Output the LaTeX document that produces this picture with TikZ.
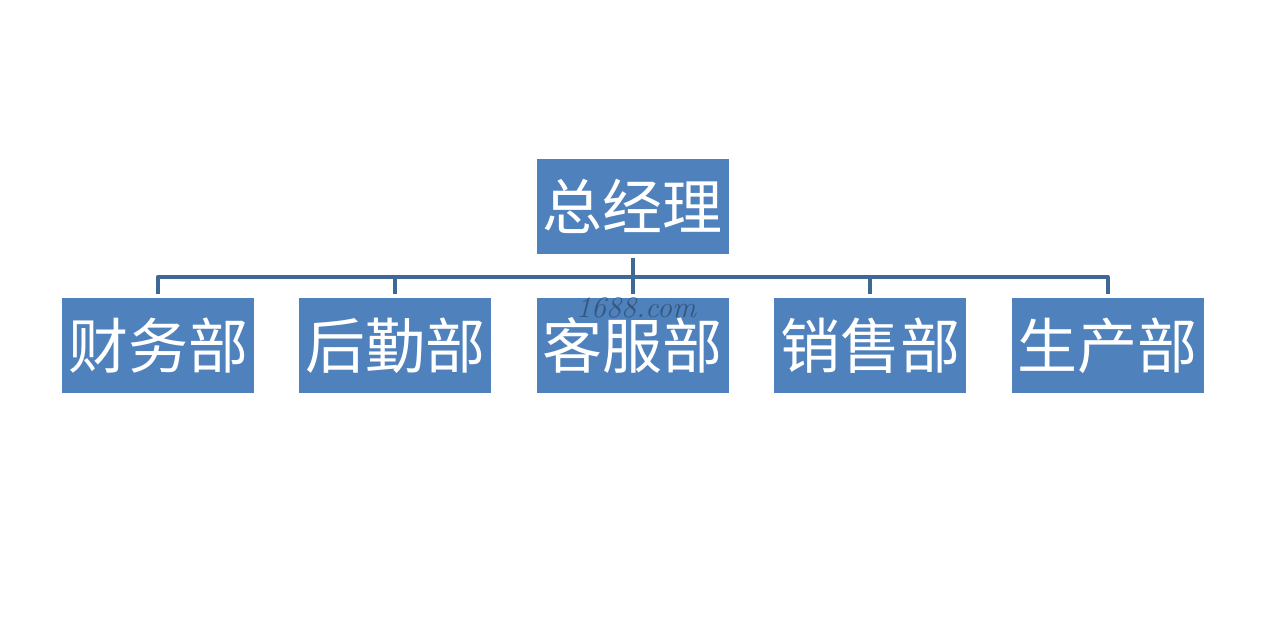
\documentclass[tikz,border=0pt]{standalone}
\usepackage{fontspec}
\newfontfamily\cjk{Noto Sans CJK SC}
\usepackage{tikz}
\usetikzlibrary{positioning}
\definecolor{deptblue}{HTML}{4F81BD}
\definecolor{linkblue}{HTML}{3F6896}

\begin{document}
\begin{tikzpicture}[
    x=1pt, y=-1pt,
    node distance=44pt and 45pt,
    dept/.style={fill=deptblue, text=white, minimum width=192pt, minimum height=95pt,
      inner sep=0pt, font=\cjk\fontsize{60}{60}\selectfont},
    link/.style={draw=linkblue, line width=4pt, line join=round}]
  \useasboundingbox[fill=white] (0,0) rectangle (1269,618);
  \node[dept] (fin) at (158,345.5) {财务部};
  \node[dept, right=of fin] (logi) {后勤部};
  \node[dept, right=of logi] (serv) {客服部};
  \node[dept, right=of serv] (sale) {销售部};
  \node[dept, right=of sale] (prod) {生产部};
  \node[dept, above=of serv] (boss) {总经理};
  % bus between manager and departments
  \coordinate (busL) at ([yshift=21pt]fin.north);
  \coordinate (busR) at ([yshift=21pt]prod.north);
  \draw[link] ([yshift=4pt]fin.north) -- (busL) -- (busR) -- ([yshift=4pt]prod.north);
  \draw[link] ([yshift=-4pt]boss.south) -- ([yshift=4pt]serv.north);
  \draw[link] ([yshift=4pt]logi.north) -- ([yshift=21pt]logi.north);
  \draw[link] ([yshift=4pt]sale.north) -- ([yshift=21pt]sale.north);
  \node[text=linkblue!70!black, opacity=0.75, inner sep=0pt, font=\itshape\fontsize{30}{30}\selectfont] (mark) at (636,308) {1688.com};
\end{tikzpicture}
\end{document}
